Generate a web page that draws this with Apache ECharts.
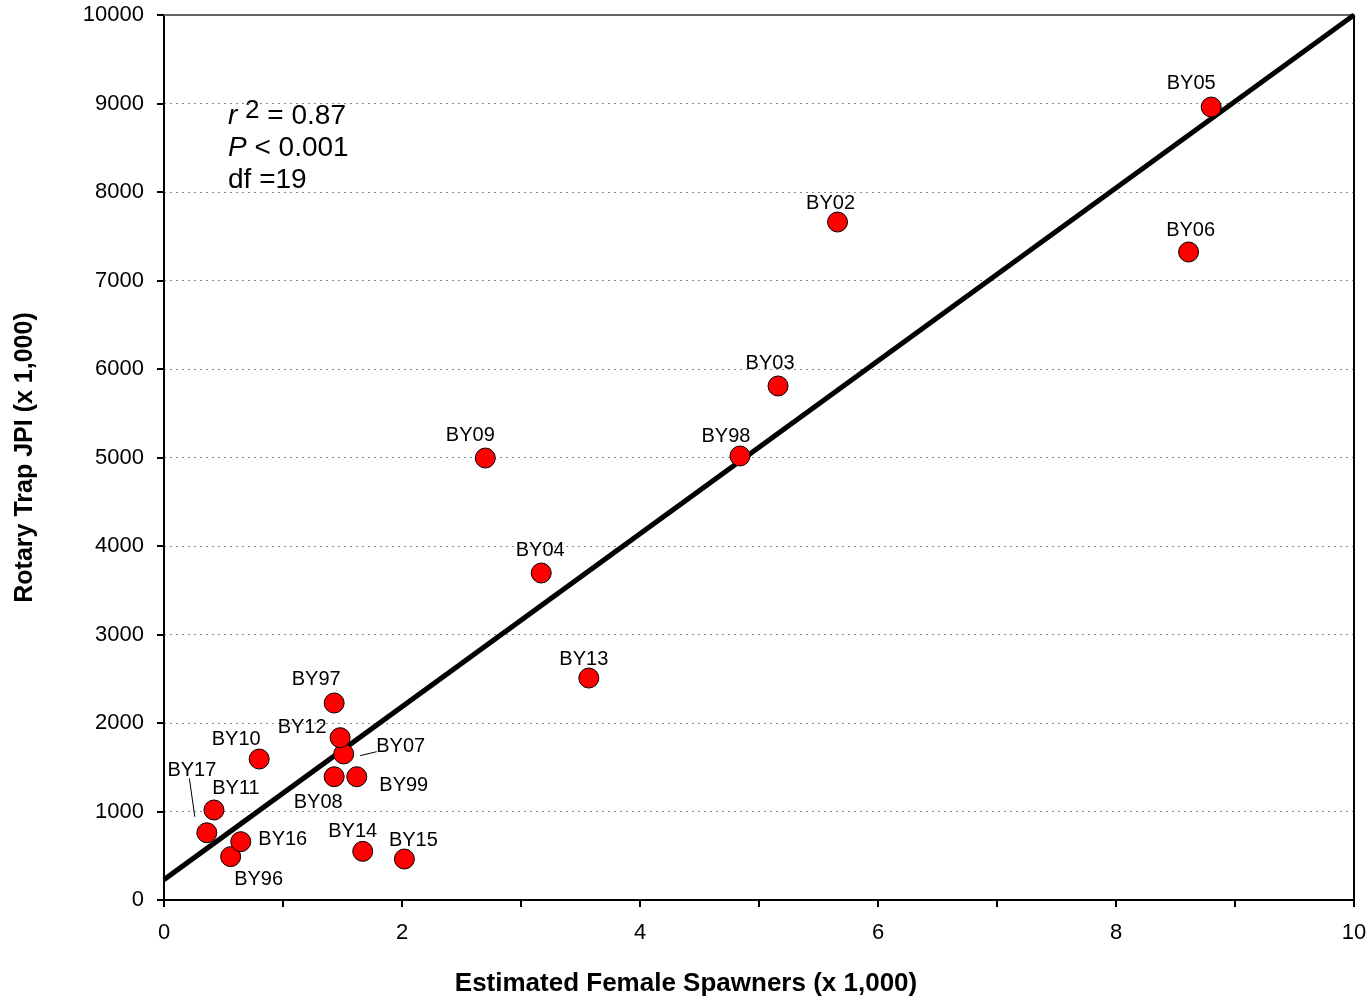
<!DOCTYPE html>
<html>
<head>
<meta charset="utf-8">
<script src="https://cdn.jsdelivr.net/npm/echarts@6/dist/echarts.min.js"></script>
<style>
  html, body { margin: 0; padding: 0; background: #fff; }
  #chart { width: 1372px; height: 1000px; }
</style>
</head>
<body>
<div id="chart"></div>
<script>
// brood years, spawners (x 1,000) and rotary trap JPI (x 1,000)
const names = ['BY96', 'BY97', 'BY98', 'BY99', 'BY02', 'BY03', 'BY04', 'BY05', 'BY06', 'BY07',
  'BY08', 'BY09', 'BY10', 'BY11', 'BY12', 'BY13', 'BY14', 'BY15', 'BY16', 'BY17'];
const spawners = [0.56, 1.43, 4.84, 1.62, 5.66, 5.16, 3.17, 8.80, 8.61, 1.51,
  1.43, 2.70, 0.80, 0.42, 1.48, 3.57, 1.67, 2.02, 0.645, 0.36];
const jpi = [490, 2226, 5017, 1393, 7661, 5808, 3695, 8960, 7322, 1650,
  1393, 4994, 1593, 1017, 1834, 2508, 550, 463, 659, 760];

// fitted regression line end points
const fitX = [0, 10];
const fitY = [230, 10000];

// leader lines for crowded labels (BY07, BY17)
const leaderBY07 = [[1.648, 1631], [1.788, 1676]];
const leaderBY17 = [[0.213, 1375], [0.259, 940]];

const yTicks = [0, 1000, 2000, 3000, 4000, 5000, 6000, 7000, 8000, 9000, 10000];

// label offsets from marker centre, px
const labelOffset = {
  BY96: [28, 23], BY97: [-18, -24], BY98: [-14, -20], BY99: [47, 9], BY02: [-7, -19],
  BY03: [-8, -23], BY04: [-1, -23], BY05: [-20, -24], BY06: [2, -22], BY07: [57, -7],
  BY08: [-16, 26], BY09: [-15, -23], BY10: [-23, -20], BY11: [22, -22], BY12: [-38, -10],
  BY13: [-5, -19], BY14: [-10, -20], BY15: [9, -19], BY16: [42, -2], BY17: [-15, -62]
};

const font = "'Liberation Sans', Arial, sans-serif";
const chart = echarts.init(document.getElementById('chart'));

const points = names.map(function(n, i) {
  return {
    name: n,
    value: [spawners[i], jpi[i]],
    label: { offset: labelOffset[n] }
  };
});

chart.setOption({
  backgroundColor: '#fff',
  animation: false,
  textStyle: { fontFamily: font },
  // x axis title is centred on the whole picture, not on the plot
  title: {
    text: 'Estimated Female Spawners (x 1,000)',
    left: 'center',
    top: 971,
    padding: 0,
    textStyle: { fontSize: 26, fontWeight: 'bold', color: '#000', fontFamily: font }
  },
  grid: { left: 164, right: 18, top: 15, bottom: 100 },
  xAxis: [{
    type: 'value',
    min: 0,
    max: 10,
    interval: 1,
    axisLine: { onZero: false, lineStyle: { color: '#000', width: 2 } },
    axisTick: { length: 7, lineStyle: { color: '#000', width: 2 } },
    axisLabel: {
      margin: 22, fontSize: 22, color: '#000', fontFamily: font,
      formatter: function(v) { return v % 2 === 0 ? String(v) : ''; }
    },
    splitLine: { show: false }
  }, {
    type: 'value',
    position: 'top',
    min: 0,
    max: 10,
    axisLine: { show: true, onZero: false, lineStyle: { color: '#666', width: 2 } },
    axisTick: { show: false },
    axisLabel: { show: false },
    splitLine: { show: false }
  }],
  yAxis: [{
    type: 'value',
    min: yTicks[0],
    max: yTicks[yTicks.length - 1],
    interval: 1000,
    name: 'Rotary Trap JPI (x 1,000)',
    nameLocation: 'middle',
    nameGap: 126,
    nameTextStyle: { fontSize: 25, fontWeight: 'bold', color: '#000', fontFamily: font },
    axisLine: { show: true, onZero: false, lineStyle: { color: '#000', width: 2 } },
    axisTick: { show: true, length: 7, lineStyle: { color: '#000', width: 2 } },
    axisLabel: {
      margin: 20, fontSize: 22, color: '#000', fontFamily: font,
      formatter: function(v) { return String(v); }
    },
    splitLine: { show: true, lineStyle: { color: '#888', type: [2, 4], width: 1 } }
  }, {
    type: 'value',
    position: 'right',
    min: 0,
    max: 10000,
    axisLine: { show: true, onZero: false, lineStyle: { color: '#000', width: 2 } },
    axisTick: { show: false },
    axisLabel: { show: false },
    splitLine: { show: false }
  }],
  graphic: [{
    type: 'text',
    left: 228,
    top: 98,
    style: {
      text: '{i|r }{sup|2}{n| = 0.87}\n{i|P}{n| < 0.001}\n{n|df =19}',
      fill: '#000',
      rich: {
        i: { fontSize: 28, fontStyle: 'italic', fontFamily: font, lineHeight: 32, verticalAlign: 'bottom' },
        n: { fontSize: 28, fontFamily: font, lineHeight: 32, verticalAlign: 'bottom' },
        sup: { fontSize: 26, fontFamily: font, lineHeight: 24, verticalAlign: 'top' }
      }
    }
  }],
  series: [{
    type: 'line',
    data: fitX.map(function(x, i) { return [x, fitY[i]]; }),
    symbol: 'none',
    lineStyle: { color: '#000', width: 5 },
    silent: true,
    z: 2
  }, {
    type: 'line',
    data: leaderBY07,
    symbol: 'none',
    lineStyle: { color: '#000', width: 1 },
    silent: true,
    z: 2
  }, {
    type: 'line',
    data: leaderBY17,
    symbol: 'none',
    lineStyle: { color: '#000', width: 1 },
    silent: true,
    z: 2
  }, {
    type: 'scatter',
    data: points,
    symbol: 'circle',
    symbolSize: 20,
    itemStyle: { color: '#ff0000', borderColor: '#000', borderWidth: 1, opacity: 1 },
    label: {
      show: true,
      position: 'inside',
      align: 'center',
      verticalAlign: 'middle',
      formatter: '{b}',
      fontSize: 20,
      color: '#000',
      fontFamily: font
    },
    z: 5
  }]
});
</script>
</body>
</html>
